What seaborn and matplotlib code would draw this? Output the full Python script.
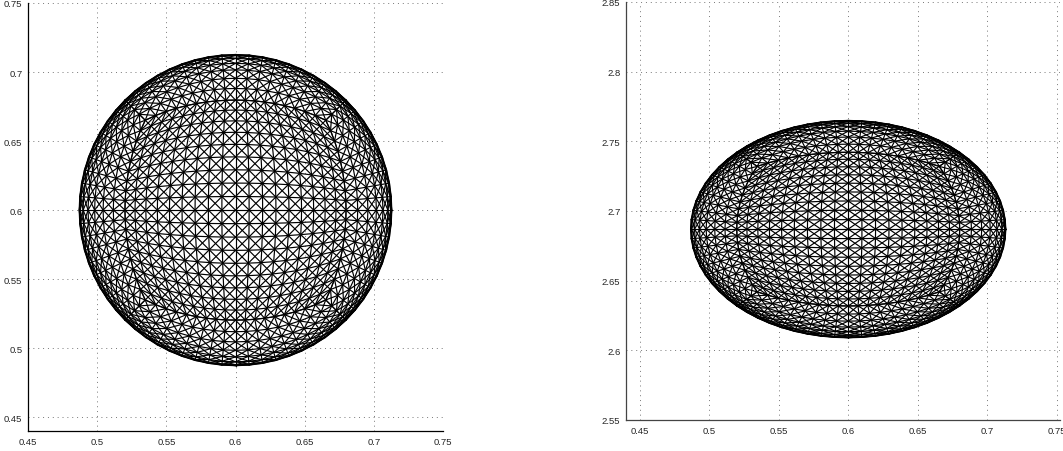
import matplotlib
matplotlib.use("Agg")
import matplotlib.pyplot as plt
import numpy as np
import pandas as pd
import seaborn as sns

# cube-face grid parameters of the mesh
face_ticks = [-1.0, -0.8391, -0.7002, -0.5774, -0.4663, -0.364, -0.2679, -0.1763, -0.0875,
              0.0, 0.0875, 0.1763, 0.2679, 0.364, 0.4663, 0.5774, 0.7002, 0.8391, 1.0]
side_ticks = [0.0, 0.1127, 0.228, 0.352, 0.481, 0.628, 0.798, 1.0]

# shape: centre and semi axes
left_center = [0.6, 0.6]
left_radii = [0.113, 0.1127]
right_center = [0.6, 2.687]
right_radii = [0.1135, 0.078]

left_xticks = [0.45, 0.5, 0.55, 0.6, 0.65, 0.7, 0.75]
left_yticks = [0.45, 0.5, 0.55, 0.6, 0.65, 0.7, 0.75]
left_xlabels = ["0.45", "0.5", "0.55", "0.6", "0.65", "0.7", "0.75"]
left_ylabels = ["0.45", "0.5", "0.55", "0.6", "0.65", "0.7", "0.75"]
right_xticks = [0.45, 0.5, 0.55, 0.6, 0.65, 0.7, 0.75]
right_yticks = [2.55, 2.6, 2.65, 2.7, 2.75, 2.8, 2.85]
right_xlabels = ["0.45", "0.5", "0.55", "0.6", "0.65", "0.7", "0.75"]
right_ylabels = ["2.55", "2.6", "2.65", "2.7", "2.75", "2.8", "2.85"]


def grid_lines(us, vs):
    nu, nv = len(us), len(vs)
    lines = []
    for u in us:
        lines.append([(u, v) for v in vs])
    for v in vs:
        lines.append([(u, v) for u in us])
    for k in range(-nu + 1, nv):
        lines.append([(us[i], vs[i + k]) for i in range(nu) if 0 <= i + k < nv])
        lines.append([(us[i], vs[nv - 1 - i - k]) for i in range(nu) if 0 <= nv - 1 - i - k < nv])
    return lines


def mesh_frame(center, radii):
    # front face and the four side faces, front half only
    faces = [
        (lambda a, b: (a, b, 1.0), face_ticks),
        (lambda a, b: (1.0, a, b), side_ticks),
        (lambda a, b: (-1.0, a, b), side_ticks),
        (lambda a, b: (a, 1.0, b), side_ticks),
        (lambda a, b: (a, -1.0, b), side_ticks),
    ]
    rows = []
    unit = 0
    for face, vs in faces:
        for line in grid_lines(face_ticks, vs):
            if len(line) < 2:
                continue
            pts = np.array([face(a, b) for a, b in line])
            pts = pts / np.linalg.norm(pts, axis=1, keepdims=True)
            for p in pts:
                rows.append((center[0] + radii[0] * p[0], center[1] + radii[1] * p[1], unit))
            unit += 1
    return pd.DataFrame(rows, columns=["x", "y", "unit"])


def draw_panel(ax, df, xticks, yticks, xlabels, ylabels, xlim, ylim, spine_color):
    sns.lineplot(data=df, x="x", y="y", units="unit", estimator=None, sort=False,
                 color="black", linewidth=0.85, ax=ax, zorder=3)
    ax.set_xlim(xlim)
    ax.set_ylim(ylim)
    ax.set_xticks(xticks, xlabels)
    ax.set_yticks(yticks, ylabels)
    ax.set_xlabel("")
    ax.set_ylabel("")
    ax.grid(True, linestyle=(0, (1, 4)), color="#777777", linewidth=0.7)
    ax.set_axisbelow(True)
    ax.tick_params(direction="in", length=3, width=0.7, labelsize=6.8, pad=4, color="black")
    for side in ["top", "right"]:
        ax.spines[side].set_visible(False)
    for side in ["left", "bottom"]:
        ax.spines[side].set_color(spine_color)
        ax.spines[side].set_linewidth(0.9)


sns.set_style("white")
plt.rcParams["font.family"] = ["Liberation Sans", "DejaVu Sans"]

W, H = 1063, 452
fig = plt.figure(figsize=(W / 100, H / 100), dpi=100)
ax1 = fig.add_axes([28 / W, 1 - 432 / H, 415 / W, 428 / H])
ax2 = fig.add_axes([626 / W, 1 - 421 / H, 434 / W, 418 / H])

draw_panel(ax1, mesh_frame(left_center, left_radii), left_xticks, left_yticks,
           left_xlabels, left_ylabels, (0.45, 0.75), (0.44, 0.75), "black")
draw_panel(ax2, mesh_frame(right_center, right_radii), right_xticks, right_yticks,
           right_xlabels, right_ylabels, (0.44, 0.7525), (2.55, 2.85), "#444444")

fig.savefig("out.png", dpi=100)
plt.close(fig)
